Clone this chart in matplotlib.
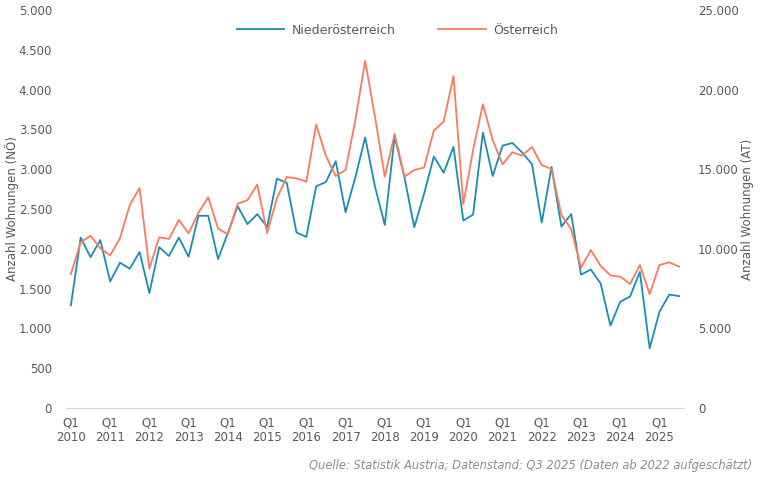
import matplotlib
matplotlib.use('Agg')
import matplotlib.pyplot as plt
from matplotlib.ticker import FuncFormatter, MultipleLocator

# quarterly values Q1 2010 .. Q3 2025
years = list(range(2010, 2026))
noe = [1290, 2140, 1895, 2110, 1590, 1825, 1750, 1960, 1445, 2020,
       1910, 2140, 1900, 2415, 2415, 1870, 2200, 2535, 2310, 2435,
       2275, 2880, 2830, 2205, 2150, 2785, 2840, 3100, 2460, 2900,
       3400, 2780, 2300, 3410, 2900, 2270, 2690, 3160, 2955, 3280,
       2355, 2430, 3460, 2915, 3295, 3330, 3210, 3065, 2330, 3030,
       2280, 2435, 1675, 1740, 1565, 1035, 1335, 1400, 1710, 750,
       1210, 1425, 1405]
at = [8420, 10410, 10820, 10030, 9590, 10660, 12750, 13820, 8750, 10720,
      10620, 11810, 10970, 12270, 13230, 11270, 10910, 12830, 13060, 14030,
      10990, 13170, 14510, 14420, 14220, 17800, 15830, 14570, 14950, 18090,
      21800, 18280, 14530, 17210, 14530, 14950, 15100, 17430, 17990, 20850,
      12810, 16200, 19080, 16830, 15300, 16060, 15860, 16400, 15260, 15010,
      12120, 11240, 8810, 9920, 8920, 8330, 8250, 7790, 8980, 7160,
      8980, 9150, 8880]
series_names = ['Niederösterreich', 'Österreich']

blue = '#1a8db3'
orange = '#ff7a5e'
grey = '#595959'

plt.rcParams['font.family'] = ['DejaVu Sans']

fig = plt.figure(figsize=(7.66, 4.79), dpi=100)
ax = fig.add_axes([66 / 766, 71 / 479, 618 / 766, 398 / 479])
ax2 = ax.twinx()

x = list(range(len(noe)))
l1, = ax.plot(x, noe, color=blue, linewidth=1.3, label=series_names[0])
l2, = ax2.plot(x, at, color=orange, linewidth=1.3, label=series_names[1])

ax.set_xlim(-0.5, len(noe) - 0.5)
ax.set_ylim(0, 5000)
ax2.set_ylim(0, 25000)
ax.yaxis.set_major_locator(MultipleLocator(500))
ax2.yaxis.set_major_locator(MultipleLocator(5000))

fmt = FuncFormatter(lambda v, p: f"{int(v):,}".replace(',', '.'))
ax.yaxis.set_major_formatter(fmt)
ax2.yaxis.set_major_formatter(fmt)

ax.set_xticks([4 * i for i in range(len(years))])
ax.set_xticklabels([f"Q1\n{y}" for y in years])

for a in (ax, ax2):
    for s in a.spines.values():
        s.set_visible(False)
    a.tick_params(length=0, colors=grey, labelsize=8.5)
ax.spines['bottom'].set_visible(True)
ax.spines['bottom'].set_color('#d9d9d9')
ax.tick_params(axis='y', pad=10)
ax2.tick_params(axis='y', pad=10)
ax.tick_params(axis='x', pad=6)

ax.set_ylabel('Anzahl Wohnungen (NÖ)', color=grey, fontsize=8.5, labelpad=0)
ax2.set_ylabel('Anzahl Wohnungen (AT)', color=grey, fontsize=8.5, rotation=90, labelpad=2)

fig.legend(handles=[l1, l2], loc='center', bbox_to_anchor=(0.519, 0.937),
           ncol=2, frameon=False, fontsize=9, handlelength=3.8,
           handletextpad=0.6, columnspacing=3.4, labelcolor=grey)

fig.text(752 / 766, 1 - 465 / 479,
         'Quelle: Statistik Austria; Datenstand: Q3 2025 (Daten ab 2022 aufgeschätzt)',
         ha='right', va='center', style='italic', color='#8c8c8c', fontsize=8.3)

fig.savefig('out.png', dpi=100)
